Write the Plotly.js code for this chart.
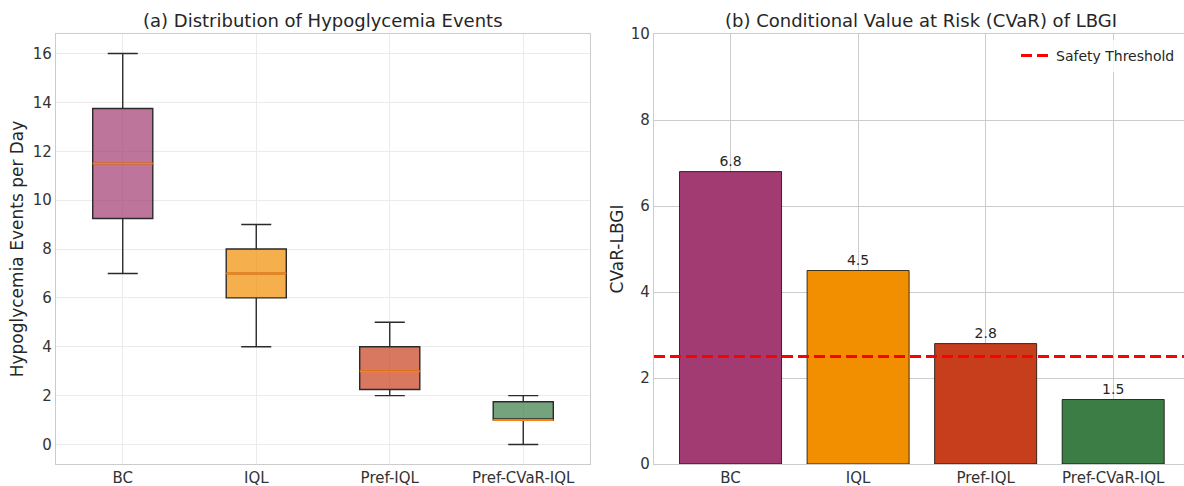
<!DOCTYPE html>
<html>
<head>
<meta charset="utf-8">
<script src="https://cdn.plot.ly/plotly-3.0.1.min.js"></script>
<style>html,body{margin:0;padding:0;background:#fff;}#chart{width:1184px;height:486px;}</style>
</head>
<body>
<div id="chart"></div>
<script>
// ---- data ----
const methods = ["BC", "IQL", "Pref-IQL", "Pref-CVaR-IQL"];
const boxLower = [7, 4, 2, 0];
const boxQ1 = [9.25, 6, 2.25, 1];
const boxMedian = [11.5, 7, 3, 1];
const boxQ3 = [13.75, 8, 4, 1.75];
const boxUpper = [16, 9, 5, 2];
const cvarValues = [6.8, 4.5, 2.8, 1.5];
const safetyThreshold = 2.5;
const leftTicks = [0, 2, 4, 6, 8, 10, 12, 14, 16];
const rightTicks = [0, 2, 4, 6, 8, 10];

// ---- styles ----
const colors = ["#A23B72", "#F18F01", "#C73E1D", "#3B7D44"];
const boxFill = ["rgba(162,59,114,0.7)", "rgba(241,143,1,0.7)", "rgba(199,62,29,0.7)", "rgba(59,125,68,0.7)"];
const boxWidth = 0.45;
const W = 1184, H = 486;
const font = "DejaVu Sans, Liberation Sans, sans-serif";
const txt = "#262626";
const tickFont = { size: 15, color: "#333" };

const traces = [];
methods.forEach((m, i) => {
  traces.push({
    type: "box", xaxis: "x", yaxis: "y",
    x: [i + 1], q1: [boxQ1[i]], median: [boxMedian[i]], q3: [boxQ3[i]],
    lowerfence: [boxLower[i]], upperfence: [boxUpper[i]],
    width: boxWidth, whiskerwidth: 0.5,
    fillcolor: boxFill[i],
    line: { color: "#2a2a2a", width: 1.4 },
    showlegend: false, hoverinfo: "skip", name: m
  });
});
// median lines (orange) drawn over boxes
const mx = [], my = [];
methods.forEach((m, i) => {
  mx.push(i + 1 - boxWidth / 2, i + 1 + boxWidth / 2, null);
  my.push(boxMedian[i], boxMedian[i], null);
});
traces.push({
  type: "scatter", mode: "lines", xaxis: "x", yaxis: "y",
  x: mx, y: my, line: { color: "#ff7f0e", width: 2 },
  showlegend: false, hoverinfo: "skip"
});

// bars
traces.push({
  type: "bar", xaxis: "x2", yaxis: "y2",
  x: methods.map((m, i) => i), y: cvarValues,
  width: 0.8,
  marker: { color: colors, line: { color: "rgba(0,0,0,0.75)", width: 1 } },
  text: cvarValues.map(v => v.toFixed(1)),
  textposition: "outside", cliponaxis: false,
  textfont: { family: font, size: 14, color: txt },
  showlegend: false, hoverinfo: "skip"
});
// threshold line
traces.push({
  type: "scatter", mode: "lines", xaxis: "x2", yaxis: "y2",
  x: [-0.6, 3.6], y: [safetyThreshold, safetyThreshold],
  line: { color: "#ff0000", width: 3, dash: "11px,5px" },
  name: "Safety Threshold", showlegend: true, hoverinfo: "skip"
});

const px = v => v / W;
const py = v => 1 - v / H;

const layout = {
  width: W, height: H,
  margin: { l: 0, r: 0, t: 0, b: 0 },
  paper_bgcolor: "#fff", plot_bgcolor: "#fff",
  font: { family: font, color: txt, size: 14 },
  boxmode: "overlay",
  bargap: 0.2,
  xaxis: {
    domain: [px(56), px(590)], range: [0.5, 4.5],
    tickvals: methods.map((m, i) => i + 1), ticktext: methods,
    showgrid: true, gridcolor: "#ebebeb", gridwidth: 1,
    showline: true, linecolor: "#cccccc", linewidth: 1.2, mirror: true,
    zeroline: false, ticks: "", tickfont: tickFont,
    anchor: "y"
  },
  yaxis: {
    domain: [py(464), py(34)], range: [-0.8, 16.8],
    tickvals: leftTicks,
    showgrid: true, gridcolor: "#ebebeb", gridwidth: 1,
    showline: true, linecolor: "#cccccc", linewidth: 1.2, mirror: true,
    zeroline: false, ticks: "", tickfont: tickFont,
    title: { text: "Hypoglycemia Events per Day", font: { size: 17, color: txt }, standoff: 4 },
    anchor: "x"
  },
  xaxis2: {
    domain: [px(654), 1], range: [-0.6, 3.555],
    tickvals: methods.map((m, i) => i), ticktext: methods,
    showgrid: true, gridcolor: "#cccccc", gridwidth: 1,
    showline: true, linecolor: "#cccccc", linewidth: 1.2, mirror: true,
    zeroline: false, ticks: "", tickfont: tickFont,
    anchor: "y2"
  },
  yaxis2: {
    domain: [py(464), py(34)], range: [0, 10],
    tickvals: rightTicks,
    showgrid: true, gridcolor: "#cccccc", gridwidth: 1,
    showline: true, linecolor: "#cccccc", linewidth: 1.2, mirror: true,
    zeroline: false, ticks: "", tickfont: tickFont,
    title: { text: "CVaR-LBGI", font: { size: 17, color: txt }, standoff: 2 },
    anchor: "x2"
  },
  legend: {
    x: px(1180), y: py(40), xanchor: "right", yanchor: "top",
    bgcolor: "rgba(255,255,255,0.8)", borderwidth: 0,
    font: { size: 14, color: txt }
  },
  annotations: [
    { text: "(a) Distribution of Hypoglycemia Events", xref: "paper", yref: "paper",
      x: px(323), y: py(20), xanchor: "center", yanchor: "middle", showarrow: false,
      font: { size: 18, color: txt } },
    { text: "(b) Conditional Value at Risk (CVaR) of LBGI", xref: "paper", yref: "paper",
      x: px(921), y: py(20), xanchor: "center", yanchor: "middle", showarrow: false,
      font: { size: 18, color: txt } }
  ]
};

Plotly.newPlot("chart", traces, layout, { displayModeBar: false, staticPlot: true });
</script>
</body>
</html>
